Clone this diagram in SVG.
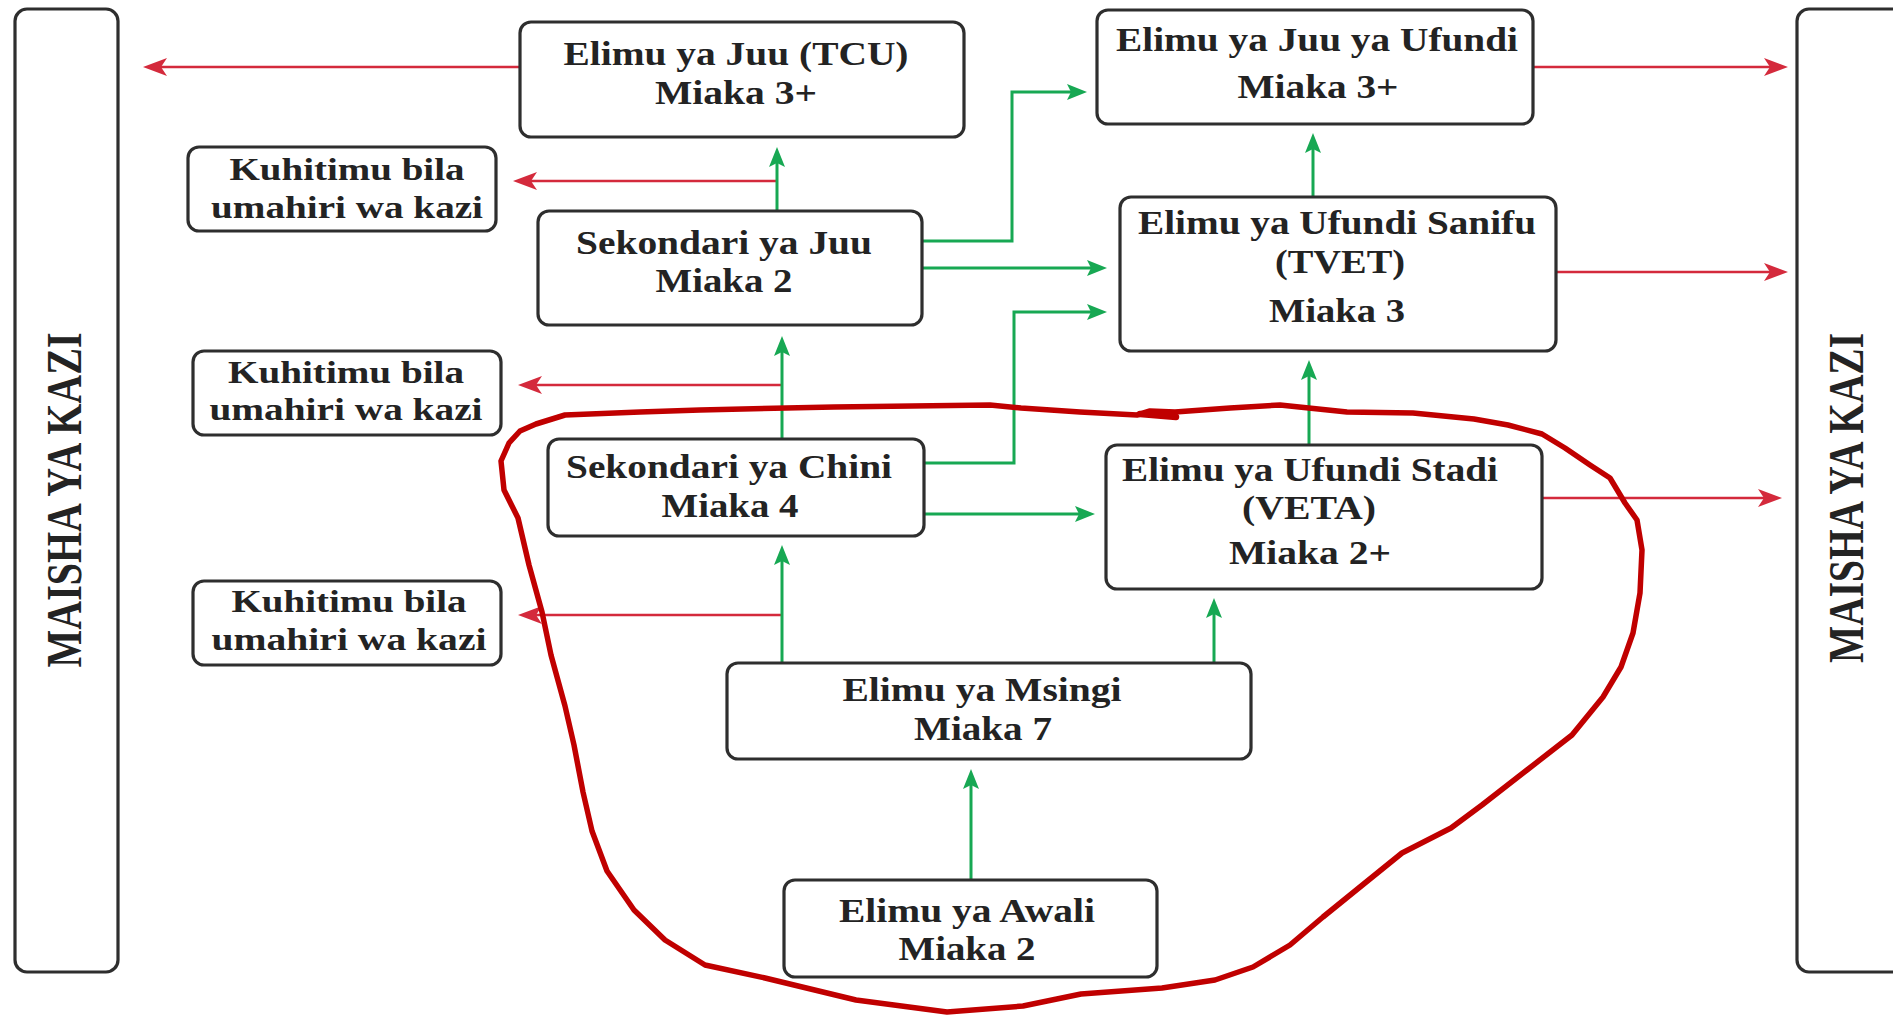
<svg xmlns="http://www.w3.org/2000/svg" width="1893" height="1015" viewBox="0 0 1893 1015">
<style>
.box{fill:#fff;stroke:#2e2e2e;stroke-width:3.2}
.t{font-family:"Liberation Serif","Times New Roman",serif;font-weight:bold;font-size:33px;fill:#232323;text-anchor:middle}
.k{font-size:32px}
.side{font-family:"Liberation Serif","Times New Roman",serif;font-weight:bold;font-size:50px;fill:#232323;text-anchor:middle}
.g{fill:none;stroke:#17a853;stroke-width:3}
.r{fill:none;stroke:#d42a3c;stroke-width:2.6}
</style>
<defs>
<marker id="ag" viewBox="0 0 20 16" refX="12" refY="8" markerWidth="20" markerHeight="16" orient="auto" markerUnits="userSpaceOnUse"><path d="M0,0 L20,8 L0,16 L4,8 Z" fill="#17a853"/></marker>
<marker id="ar" viewBox="0 0 24 18" refX="16" refY="9" markerWidth="24" markerHeight="18" orient="auto" markerUnits="userSpaceOnUse"><path d="M0,0 L24,9 L0,18 L6,9 Z" fill="#d42a3c"/></marker>
</defs>
<rect width="1893" height="1015" fill="#fff"/>

<g id="maisha-left">
<rect class="box" x="15" y="9" width="103" height="963" rx="12"/>
<text class="side" transform="translate(81,500) rotate(-90)" textLength="335" lengthAdjust="spacingAndGlyphs">MAISHA YA KAZI</text>
</g>
<g id="maisha-right">
<rect class="box" x="1797" y="9" width="140" height="963" rx="12"/>
<text class="side" transform="translate(1863,498) rotate(-90)" textLength="330" lengthAdjust="spacingAndGlyphs">MAISHA YA KAZI</text>
</g>

<g id="connectors">
<path class="r" d="M519,67 H151" marker-end="url(#ar)"/>
<path class="r" d="M776,181 H521" marker-end="url(#ar)"/>
<path class="r" d="M782,385 H526" marker-end="url(#ar)"/>
<path class="r" d="M782,615 H526" marker-end="url(#ar)"/>
<path class="r" d="M1533,67 H1780" marker-end="url(#ar)"/>
<path class="r" d="M1556,272 H1780" marker-end="url(#ar)"/>
<path class="r" d="M1542,498 H1774" marker-end="url(#ar)"/>

<path class="g" d="M777,210 V155" marker-end="url(#ag)"/>
<path class="g" d="M782,439 V344" marker-end="url(#ag)"/>
<path class="g" d="M782,662 V553" marker-end="url(#ag)"/>
<path class="g" d="M1214,662 V606" marker-end="url(#ag)"/>
<path class="g" d="M971,879 V777" marker-end="url(#ag)"/>
<path class="g" d="M1309,445 V368" marker-end="url(#ag)"/>
<path class="g" d="M1313,197 V141" marker-end="url(#ag)"/>
<path class="g" d="M922,241 H1012 V92 H1079" marker-end="url(#ag)"/>
<path class="g" d="M922,268 H1099" marker-end="url(#ag)"/>
<path class="g" d="M924,463 H1014 V312 H1099" marker-end="url(#ag)"/>
<path class="g" d="M924,514 H1087" marker-end="url(#ag)"/>
</g>

<g id="tcu">
<rect class="box" x="520" y="22" width="444" height="115" rx="11"/>
<text class="t" x="736" y="65" textLength="345" lengthAdjust="spacingAndGlyphs">Elimu ya Juu (TCU)</text>
<text class="t" x="736" y="104" textLength="162" lengthAdjust="spacingAndGlyphs">Miaka 3+</text>
</g>
<g id="juu-ufundi">
<rect class="box" x="1097" y="10" width="436" height="114" rx="11"/>
<text class="t" x="1317" y="51" textLength="402" lengthAdjust="spacingAndGlyphs">Elimu ya Juu ya Ufundi</text>
<text class="t" x="1318" y="98" textLength="161" lengthAdjust="spacingAndGlyphs">Miaka 3+</text>
</g>
<g id="kuhitimu-1">
<rect class="box" x="188" y="147" width="308" height="84" rx="11"/>
<text class="t k" x="347" y="180" textLength="235" lengthAdjust="spacingAndGlyphs">Kuhitimu bila</text>
<text class="t k" x="347" y="218" textLength="272" lengthAdjust="spacingAndGlyphs">umahiri wa kazi</text>
</g>
<g id="sekondari-juu">
<rect class="box" x="538" y="211" width="384" height="114" rx="11"/>
<text class="t" x="724" y="254" textLength="296" lengthAdjust="spacingAndGlyphs">Sekondari ya Juu</text>
<text class="t" x="724" y="292" textLength="137" lengthAdjust="spacingAndGlyphs">Miaka 2</text>
</g>
<g id="tvet">
<rect class="box" x="1120" y="197" width="436" height="154" rx="11"/>
<text class="t" x="1337" y="234" textLength="398" lengthAdjust="spacingAndGlyphs">Elimu ya Ufundi Sanifu</text>
<text class="t" x="1340" y="273" textLength="130" lengthAdjust="spacingAndGlyphs">(TVET)</text>
<text class="t" x="1337" y="322" textLength="136" lengthAdjust="spacingAndGlyphs">Miaka 3</text>
</g>
<g id="kuhitimu-2">
<rect class="box" x="193" y="351" width="308" height="84" rx="11"/>
<text class="t k" x="346" y="383" textLength="236" lengthAdjust="spacingAndGlyphs">Kuhitimu bila</text>
<text class="t k" x="346" y="420" textLength="273" lengthAdjust="spacingAndGlyphs">umahiri wa kazi</text>
</g>
<g id="sekondari-chini">
<rect class="box" x="548" y="439" width="376" height="97" rx="11"/>
<text class="t" x="729" y="478" textLength="326" lengthAdjust="spacingAndGlyphs">Sekondari ya Chini</text>
<text class="t" x="730" y="517" textLength="137" lengthAdjust="spacingAndGlyphs">Miaka 4</text>
</g>
<g id="veta">
<rect class="box" x="1106" y="445" width="436" height="144" rx="11"/>
<text class="t" x="1310" y="481" textLength="376" lengthAdjust="spacingAndGlyphs">Elimu ya Ufundi Stadi</text>
<text class="t" x="1309" y="519" textLength="134" lengthAdjust="spacingAndGlyphs">(VETA)</text>
<text class="t" x="1310" y="564" textLength="162" lengthAdjust="spacingAndGlyphs">Miaka 2+</text>
</g>
<g id="kuhitimu-3">
<rect class="box" x="193" y="581" width="308" height="84" rx="11"/>
<text class="t k" x="349" y="612" textLength="235" lengthAdjust="spacingAndGlyphs">Kuhitimu bila</text>
<text class="t k" x="349" y="650" textLength="275" lengthAdjust="spacingAndGlyphs">umahiri wa kazi</text>
</g>
<g id="msingi">
<rect class="box" x="727" y="663" width="524" height="96" rx="11"/>
<text class="t" x="982" y="701" textLength="279" lengthAdjust="spacingAndGlyphs">Elimu ya Msingi</text>
<text class="t" x="983" y="740" textLength="138" lengthAdjust="spacingAndGlyphs">Miaka 7</text>
</g>
<g id="awali">
<rect class="box" x="784" y="880" width="373" height="97" rx="11"/>
<text class="t" x="967" y="922" textLength="256" lengthAdjust="spacingAndGlyphs">Elimu ya Awali</text>
<text class="t" x="967" y="960" textLength="137" lengthAdjust="spacingAndGlyphs">Miaka 2</text>
</g>

<g id="highlight-loop" fill="none" stroke="#c00000" stroke-width="5.5" stroke-linejoin="round" stroke-linecap="round">
<path d="M565,415 L640,412 L700,410 L834,407 L990,405 L1021,408 L1080,412 L1137,415 L1150,411 L1175,412 L1230,408 L1280,405 L1347,412 L1413,413 L1474,419 L1508,425 L1542,434 L1565,448 L1590,465 L1610,478 L1625,503 L1637,520 L1642,550 L1640,593 L1633,633 L1621,667 L1603,697 L1572,735 L1527,770 L1482,805 L1451,828 L1402,853 L1360,887 L1323,917 L1290,945 L1253,967 L1215,980 L1162,988 L1081,994 L1023,1006 L947,1012 L856,1000 L765,978 L705,965 L665,940 L634,910 L607,871 L592,831 L583,792 L574,745 L565,706 L551,655 L542,612 L529,565 L518,518 L504,490 L501,461 L509,443 L520,431 L536,424 Z"/>
<path d="M1140,414 L1176,417" stroke-width="6.5"/>
</g>
</svg>
